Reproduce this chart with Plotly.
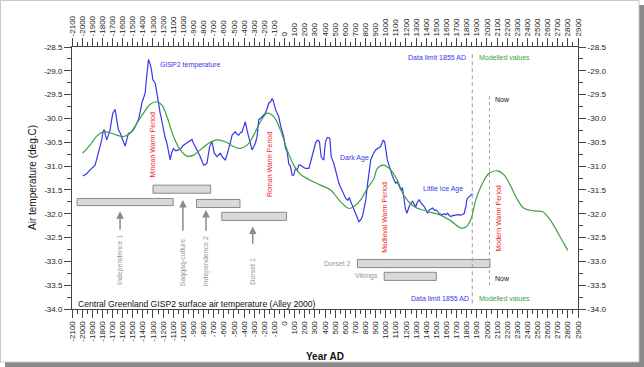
import plotly.graph_objects as go

# ---------------- data ----------------
GISP2_YEAR = [-1995, -1975, -1955, -1930, -1905, -1885, -1872, -1855, -1840, -1820, -1806, -1795,
              -1783, -1770, -1757, -1740, -1724, -1710, -1697, -1685, -1674, -1660, -1641, -1625,
              -1608, -1590, -1575, -1560, -1542, -1520, -1493, -1470, -1443, -1425, -1410, -1390,
              -1377, -1368, -1360, -1350, -1344, -1330, -1321, -1310, -1301, -1290, -1278, -1261,
              -1245, -1229, -1212, -1196, -1180, -1162, -1145, -1130, -1115, -1097, -1075, -1047,
              -1020, -998, -970, -948, -915, -900, -882, -860, -833, -815, -800, -783, -766, -750,
              -740, -717, -705, -694, -668, -650, -635, -610, -585, -570, -552, -535, -518, -500,
              -486, -470, -453, -435, -420, -400, -387, -370, -354, -338, -321, -305, -288, -271,
              -255, -238, -222, -205, -189, -170, -156, -138, -123, -113, -100, -90, -73, -57, -40,
              -24, -8, 9, 26, 42, 58, 75, 91, 108, 125, 141, 157, 174, 190, 207, 225, 240, 257, 273,
              290, 306, 322, 335, 345, 355, 362, 375, 388, 397, 405, 422, 435, 448, 455, 461, 475,
              487, 500, 514, 525, 537, 555, 572, 590, 605, 625, 640, 655, 687, 710, 736, 755, 770,
              790, 803, 819, 835, 852, 875, 900, 950, 965, 976, 990, 999, 1008, 1016, 1030, 1049,
              1065, 1082, 1100, 1115, 1130, 1149, 1165, 1182, 1195, 1209, 1220, 1232, 1247, 1265,
              1280, 1298, 1312, 1331, 1350, 1380, 1396, 1414, 1430, 1446, 1464, 1480, 1495, 1513,
              1530, 1563, 1580, 1595, 1612, 1628, 1645, 1660, 1694, 1720, 1744, 1760, 1777, 1785,
              1793, 1800, 1810, 1825, 1843, 1858]
GISP2_TEMP = [-31.21, -31.18, -31.16, -31.10, -31.05, -31.02, -30.98, -30.85, -30.73, -30.58, -30.45,
              -30.30, -30.23, -30.35, -30.45, -30.35, -30.24, -30.05, -29.89, -29.85, -29.81, -30.00,
              -30.24, -30.30, -30.38, -30.50, -30.58, -30.45, -30.31, -30.30, -30.24, -30.15, -30.03,
              -29.85, -29.68, -29.55, -29.47, -29.25, -29.05, -28.85, -28.76, -28.85, -28.91, -29.05,
              -29.19, -29.22, -29.26, -29.47, -29.70, -29.89, -30.05, -30.24, -30.40, -30.52, -30.70,
              -30.87, -30.72, -30.63, -30.68, -30.66, -30.62, -30.56, -30.52, -30.49, -30.44, -30.52,
              -30.59, -30.70, -30.80, -30.90, -30.98, -30.97, -30.94, -30.72, -30.59, -30.49, -30.62,
              -30.73, -30.80, -30.75, -30.73, -30.82, -30.87, -30.78, -30.66, -30.50, -30.35, -30.30,
              -30.28, -30.33, -30.35, -30.30, -30.28, -30.15, -30.07, -30.25, -30.38, -30.55, -30.66,
              -30.60, -30.52, -30.38, -30.03, -30.00, -29.96, -29.93, -29.89, -29.78, -29.68, -29.65,
              -29.58, -29.62, -29.75, -29.80, -29.89, -29.96, -30.14, -30.24, -30.38, -30.62, -30.70,
              -30.95, -31.00, -31.19, -31.19, -31.05, -31.08, -30.98, -30.98, -31.01, -31.03, -31.05,
              -31.05, -31.05, -30.92, -30.80, -30.65, -30.52, -30.46, -30.46, -30.49, -30.65, -30.80,
              -30.85, -30.87, -30.65, -30.49, -30.40, -30.40, -30.42, -30.60, -30.80, -30.88, -30.94,
              -31.05, -31.19, -31.30, -31.36, -31.45, -31.52, -31.62, -31.68, -31.72, -31.66, -31.75,
              -31.92, -32.05, -32.17, -32.12, -32.06, -31.85, -31.71, -31.40, -31.15, -30.87, -30.75,
              -30.66, -30.59, -30.50, -30.45, -30.50, -30.59, -30.75, -30.87, -30.98, -31.08, -31.20,
              -31.29, -31.36, -31.33, -31.40, -31.50, -31.45, -31.78, -31.90, -31.99, -31.90, -31.85,
              -31.78, -31.74, -31.80, -31.85, -31.76, -31.71, -31.78, -31.85, -31.92, -31.99, -31.92,
              -31.90, -31.88, -31.93, -31.92, -31.95, -32.00, -32.02, -32.00, -32.02, -31.99, -32.04,
              -32.06, -32.04, -32.02, -32.02, -32.03, -32.01, -31.99, -31.90, -31.85, -31.72, -31.67,
              -31.64, -31.60, -31.58]

MODEL_YEAR = [-1995, -1922, -1855, -1790, -1724, -1657, -1592, -1526, -1459, -1394, -1327, -1261,
              -1211, -1162, -1097, -1030, -964, -898, -833, -750, -668, -585, -502, -436, -370,
              -304, -238, -172, -107, -41, 26, 91, 157, 240, 356, 455, 554, 637, 686, 752, 818,
              884, 917, 976, 1049, 1115, 1181, 1280, 1412, 1543, 1643, 1743, 1792, 1841, 1890,
              1956, 2022, 2105, 2171, 2237, 2303, 2369, 2468, 2551, 2601, 2667, 2733, 2799]
MODEL_TEMP = [-30.73, -30.56, -30.37, -30.28, -30.30, -30.35, -30.38, -30.31, -30.10, -29.89, -29.70,
              -29.65, -29.72, -29.96, -30.38, -30.66, -30.79, -30.77, -30.66, -30.52, -30.45, -30.49,
              -30.59, -30.63, -30.56, -30.35, -30.07, -29.89, -29.96, -30.24, -30.66, -30.98, -31.17,
              -31.28, -31.40, -31.50, -31.75, -31.89, -31.85, -31.71, -31.47, -31.26, -31.05, -30.98,
              -31.08, -31.30, -31.62, -31.85, -31.95, -32.03, -32.15, -32.30, -32.28, -32.12, -31.71,
              -31.36, -31.15, -31.10, -31.19, -31.43, -31.71, -31.89, -31.94, -31.96, -32.06, -32.27,
              -32.52, -32.77]

X_TICKS = list(range(-2100, 3000, 100))
X_TICK_LABELS = [str(v) for v in X_TICKS]
Y_TICKS = [-28.5, -29.0, -29.5, -30.0, -30.5, -31.0, -31.5, -32.0, -32.5, -33.0, -33.5, -34.0]
Y_TICK_LABELS = ["-28.5", "-29.0", "-29.5", "-30.0", "-30.5", "-31.0", "-31.5", "-32.0",
                 "-32.5", "-33.0", "-33.5", "-34.0"]

# cultural periods (grey bars)
CULTURE_NAMES = ["Independence 1", "Saqqaq-culture", "Independence 2", "Dorset 1", "Dorset 2", "Vikings"]
CULTURE_START = [-2050, -1300, -870, -620, 720, 985]
CULTURE_END = [-1100, -730, -440, 20, 2030, 1500]
CULTURE_TOP = [-31.68, -31.40, -31.70, -31.97, -32.96, -33.23]
CULTURE_BOTTOM = [-31.83, -31.57, -31.87, -32.14, -33.13, -33.40]

# warm periods (red vertical labels)
WARM_NAMES = ["Minoan Warm Period", "Roman Warm Period", "Medieval Warm Period", "Modern Warm Period"]
WARM_YEAR = [-1300, -150, 985, 2115]
WARM_TEMP = [-30.55, -30.97, -32.08, -32.11]

DATA_LIMIT_YEAR = 1855
NOW_YEAR = 2025

X_RANGE = [-2100, 2900]
Y_RANGE = [-34.0, -28.5]

# ---------------- styles ----------------
FONT = "Arial, Liberation Sans, sans-serif"
BLUE = "rgb(55,55,235)"
GREEN = "rgb(60,160,60)"
RED = "rgb(235,30,30)"
GREYTXT = "rgb(150,150,150)"
AXC = "#444444"

fig = go.Figure()
fig.add_trace(go.Scatter(x=GISP2_YEAR, y=GISP2_TEMP, mode="lines",
                         line=dict(color=BLUE, width=1.2), hoverinfo="skip", showlegend=False))
fig.add_trace(go.Scatter(x=MODEL_YEAR, y=MODEL_TEMP, mode="lines",
                         line=dict(color=GREEN, width=1.2, shape="spline", smoothing=1.0),
                         hoverinfo="skip", showlegend=False))
# dummy trace to activate the secondary (top/right) axes
fig.add_trace(go.Scatter(x=[None], y=[None], xaxis="x2", yaxis="y2", mode="lines",
                         hoverinfo="skip", showlegend=False))

shapes = []
for s, e, t, b in zip(CULTURE_START, CULTURE_END, CULTURE_TOP, CULTURE_BOTTOM):
    shapes.append(dict(type="rect", xref="x", yref="y", x0=s, x1=e, y0=b, y1=t,
                       fillcolor="#d9d9d9", line=dict(color="#8a8a8a", width=1), layer="above"))
shapes.append(dict(type="line", xref="x", yref="y", x0=DATA_LIMIT_YEAR, x1=DATA_LIMIT_YEAR,
                   y0=-33.88, y1=-28.6, line=dict(color="#9a9a9a", width=1, dash="4px,3px")))
shapes.append(dict(type="line", xref="x", yref="y", x0=NOW_YEAR, x1=NOW_YEAR,
                   y0=-33.5, y1=-29.5, line=dict(color="#9a9a9a", width=1, dash="3px,3px")))

# image frame with drop shadow (paper coordinates)
W, H = 644, 367
ML, MR, MT, MB = 72, 66, 47, 58
PW, PH = W - ML - MR, H - MT - MB


def px(xp):
    return (xp - ML) / PW


def py(yp):
    return (H - MB - yp) / PH


shapes.append(dict(type="rect", xref="paper", yref="paper", x0=px(639), x1=px(644), y0=py(367), y1=py(5),
                   fillcolor="#8a8a8a", line=dict(width=0), layer="below"))
shapes.append(dict(type="rect", xref="paper", yref="paper", x0=px(5), x1=px(644), y0=py(367), y1=py(362),
                   fillcolor="#8a8a8a", line=dict(width=0), layer="below"))
shapes.append(dict(type="rect", xref="paper", yref="paper", x0=px(0.5), x1=px(639), y0=py(362), y1=py(0.5),
                   fillcolor="white", line=dict(color="#c8c8c8", width=1), layer="below"))

ann = []


def txt(x, y, s, color, size=7, xanchor="left", angle=0, xref="x", yref="y", bold=False):
    ann.append(dict(x=x, y=y, xref=xref, yref=yref, text=("<b>%s</b>" % s) if bold else s,
                    showarrow=False, xanchor=xanchor, yanchor="middle", textangle=angle,
                    font=dict(family=FONT, size=size, color=color)))


for n, x, y in zip(WARM_NAMES, WARM_YEAR, WARM_TEMP):
    txt(x, y, n, RED, 7, "center", -90)

# arrows + labels for the early cultures
ARROW_X = [-1625, -1004, -776, -314]
ARROW_TIP = [-31.95, -31.71, -31.92, -32.27]
ARROW_TAIL = [-32.37, -32.39, -32.39, -32.66]
LABEL_T = [-32.97, -33.02, -33.00, -33.20]
for i in range(4):
    ann.append(dict(x=ARROW_X[i], y=ARROW_TIP[i], ax=ARROW_X[i], ay=ARROW_TAIL[i], xref="x", yref="y",
                    axref="x", ayref="y", text="", showarrow=True, arrowhead=2, arrowsize=1,
                    arrowwidth=1.5, arrowcolor="#8a8a8a", standoff=0, startstandoff=0))
    txt(ARROW_X[i], LABEL_T[i], CULTURE_NAMES[i], GREYTXT, 7, "center", -90)

txt(680, -33.04, CULTURE_NAMES[4], GREYTXT, 7, "right")
txt(940, -33.31, CULTURE_NAMES[5], GREYTXT, 7, "right")

txt(-1255, -28.88, "GISP2 temperature", BLUE)
txt(525, -30.83, "Dark Age", BLUE)
txt(1345, -31.48, "Little Ice Age", BLUE)
txt(1815, -28.71, "Data limit 1855 AD", BLUE, 7, "right")
txt(1845, -33.77, "Data limit 1855 AD", BLUE, 7, "right")
txt(1905, -28.71, "Modelled values", GREEN)
txt(1905, -33.77, "Modelled values", GREEN)
txt(2062, -29.61, "Now", "#111111")
txt(2062, -33.37, "Now", "#111111")
txt(-2060, -33.89, "Central Greenland GISP2 surface air temperature (Alley 2000)", "#111111", 8.6)

# axis titles
txt(px(32), 0.5, "Air temperature (deg.C)", "#111111", 10, "center", -90, "paper", "paper")
txt(0.5, py(356), "Year AD", "#111111", 10, "center", 0, "paper", "paper", bold=True)

tickfont = dict(family=FONT, size=8, color="#222222")
xcommon = dict(range=X_RANGE, tickmode="array", tickvals=X_TICKS, ticktext=X_TICK_LABELS,
               tickangle=-90, ticks="outside", ticklen=8, tickwidth=1, tickcolor=AXC,
               showline=True, linecolor=AXC, linewidth=1, showgrid=False, zeroline=False,
               tickfont=tickfont,
               minor=dict(tickmode="linear", tick0=-2050, dtick=100, ticks="outside", ticklen=4,
                          tickcolor=AXC, showgrid=False))
ycommon = dict(range=Y_RANGE, tickmode="array", tickvals=Y_TICKS, ticktext=Y_TICK_LABELS,
               ticks="outside", ticklen=7, tickwidth=1, tickcolor=AXC,
               showline=True, linecolor=AXC, linewidth=1, showgrid=False, zeroline=False,
               tickfont=tickfont,
               minor=dict(tickmode="linear", tick0=-28.75, dtick=0.5, ticks="outside", ticklen=4,
                          tickcolor=AXC, showgrid=False))

fig.update_layout(
    width=W, height=H,
    margin=dict(l=ML, r=MR, t=MT, b=MB),
    paper_bgcolor="white", plot_bgcolor="rgba(0,0,0,0)",
    xaxis=dict(**xcommon, side="bottom", anchor="y"),
    xaxis2=dict(**xcommon, side="top", overlaying="x", anchor="y"),
    yaxis=dict(**ycommon, side="left", anchor="x"),
    yaxis2=dict(**ycommon, side="right", overlaying="y", anchor="x"),
    shapes=shapes, annotations=ann, showlegend=False,
    font=dict(family=FONT),
)

fig.write_html("out.html", config={"displayModeBar": False},
               post_script="document.body.style.margin='0px';document.body.style.overflow='hidden';")
